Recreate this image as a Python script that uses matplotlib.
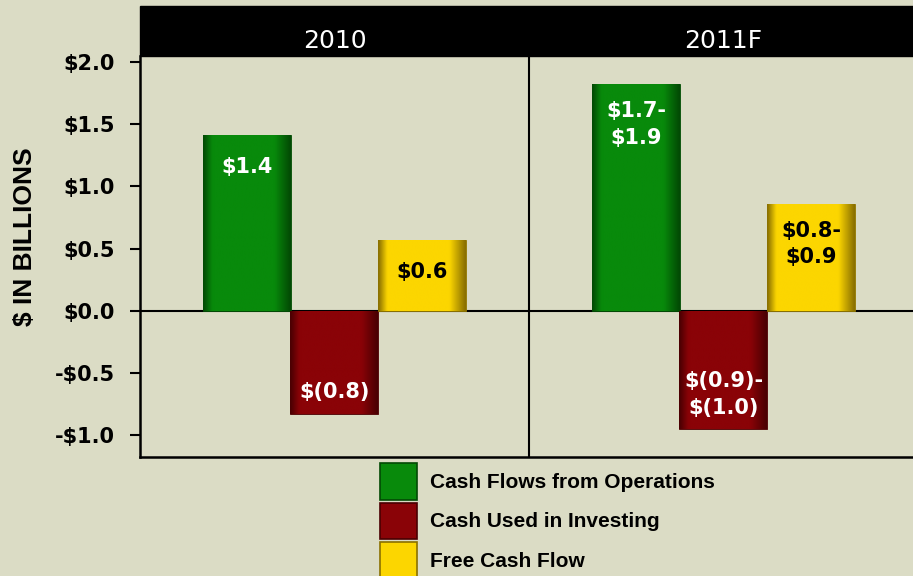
import numpy as np
import matplotlib
matplotlib.use("Agg")
import matplotlib.pyplot as plt
from matplotlib.patches import Patch, Rectangle
from matplotlib.colors import LinearSegmentedColormap
import matplotlib.transforms as mtransforms

# data (in $ billions)
periods = ["2010", "2011F"]
series = ["Cash Flows from Operations", "Cash Used in Investing", "Free Cash Flow"]
operations = [1.41, 1.82]
investing = [-0.83, -0.95]
free_cash = [0.57, 0.86]
labels_ops = ["$1.4", "$1.7-\n$1.9"]
labels_inv = ["$(0.8)", "$(0.9)-\n$(1.0)"]
labels_fcf = ["$0.6", "$0.8-\n$0.9"]
yticks = [-1.0, -0.5, 0.0, 0.5, 1.0, 1.5, 2.0]
ytick_labels = ["-$1.0", "-$0.5", "$0.0", "$0.5", "$1.0", "$1.5", "$2.0"]

bg = "#dbdcc5"
base_cols = ["#088a0b", "#8a0307", "#fcd600"]
edge_cols = ["#024a04", "#4a0002", "#8a7000"]
text_cols = ["white", "white", "black"]

fig = plt.figure(figsize=(9.13, 5.76), dpi=100, facecolor=bg)
ax = fig.add_axes([0.1533, 0.2066, 0.8521, 0.6962])
ax.set_facecolor(bg)

x = np.arange(len(periods)) + 0.5
width = 0.226
offsets = [-0.225, 0.0, 0.225]
all_vals = [operations, investing, free_cash]
all_labels = [labels_ops, labels_inv, labels_fcf]

for i, (vals, labs) in enumerate(zip(all_vals, all_labels)):
    bars = ax.bar(x + offsets[i], vals, width, color=base_cols[i],
                  edgecolor=edge_cols[i], linewidth=0.6, zorder=2)
    cmap = LinearSegmentedColormap.from_list(
        "b%d" % i, [(0, edge_cols[i]), (0.1, base_cols[i]), (0.82, base_cols[i]),
                    (1, edge_cols[i])])
    grad = np.linspace(0, 1, 64).reshape(1, -1)
    for b, lab in zip(bars, labs):
        x0, y0 = b.get_x(), b.get_y()
        w, h = b.get_width(), b.get_height()
        y_lo, y_hi = min(y0, y0 + h), max(y0, y0 + h)
        im = ax.imshow(grad, extent=[x0, x0 + w, y_lo, y_hi], cmap=cmap,
                       aspect="auto", zorder=2.1, interpolation="bicubic")
        im.set_clip_path(b)
        two = "\n" in lab
        if h >= 0:
            ytext = y_hi
            off = -(29 if two else 23)
        else:
            ytext = y_lo
            off = (25 if two else 16)
        ax.annotate(lab, (x0 + w / 2, ytext), xytext=(0, off),
                    textcoords="offset points", ha="center", va="center",
                    color=text_cols[i], fontsize=15, fontweight="bold",
                    family="DejaVu Sans", linespacing=1.4, zorder=4)

ax.set_xlim(0, 2)
ax.set_ylim(-1.173, 2.048)
ax.axhline(0, color="black", lw=1.5, zorder=1.5)
ax.axvline(1, color="black", lw=1.5, zorder=1.5)

ax.set_xticks([])
ax.set_yticks(yticks)
ax.set_yticklabels(ytick_labels, fontsize=15, fontweight="bold", family="DejaVu Sans")
ax.tick_params(axis="y", length=7, width=1.5, pad=11)
for s in ["top", "right"]:
    ax.spines[s].set_visible(False)
ax.spines["left"].set_linewidth(1.8)
ax.spines["bottom"].set_linewidth(1.8)

ax.set_ylabel("$ IN BILLIONS", fontsize=19, fontweight="bold", family="Liberation Sans")
ax.yaxis.set_label_coords(-0.132, 0.549)

# black header band with period names
hdr = Rectangle((0, 1), 1, 0.1247, transform=ax.transAxes, color="black",
                clip_on=False, zorder=3)
ax.add_patch(hdr)
trans = mtransforms.blended_transform_factory(ax.transData, ax.transAxes)
for xi, p in zip(x, periods):
    ax.text(xi, 1.038, p, transform=trans, ha="center", va="center",
            color="white", fontsize=18, family="DejaVu Sans", zorder=4)

handles = [Patch(facecolor=base_cols[i], edgecolor=edge_cols[i], linewidth=1.2)
           for i in range(3)]
fig.legend(handles, series, loc="upper left", bbox_to_anchor=(0.4162, 0.1962),
           frameon=False, borderaxespad=0, borderpad=0,
           handlelength=1.8, handleheight=2.32, handletextpad=0.6,
           labelspacing=0.15, prop={"family": "Liberation Sans", "weight": "bold", "size": 15})

fig.savefig("out.png", dpi=100, facecolor=bg)
